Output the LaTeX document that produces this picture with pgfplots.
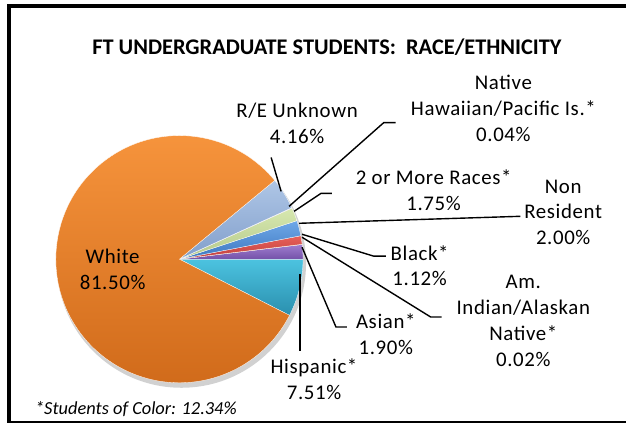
\documentclass[border=0pt]{standalone}
\usepackage{pgfplots}
\pgfplotsset{compat=1.18}
\usepackage{pgfplotstable}
\usepackage{fontspec}
\setmainfont{Carlito}[LetterSpace=3]
\newfontfamily\titlefont{Carlito}

\definecolor{cWhiteT}{HTML}{F8963E}\definecolor{cWhiteB}{HTML}{D06A1A}
\definecolor{cHispT}{HTML}{4CC3E0}\definecolor{cHispB}{HTML}{2A8FAE}
\definecolor{cAsianT}{HTML}{A07ED0}\definecolor{cAsianB}{HTML}{7352A8}
\definecolor{cAmIndT}{HTML}{A9C96A}\definecolor{cAmIndB}{HTML}{8AAA4C}
\definecolor{cBlackT}{HTML}{E8605A}\definecolor{cBlackB}{HTML}{C0403C}
\definecolor{cNonResT}{HTML}{6FA8E8}\definecolor{cNonResB}{HTML}{3E78C0}
\definecolor{cTwoT}{HTML}{D7E8B0}\definecolor{cTwoB}{HTML}{B5C98A}
\definecolor{cHawT}{HTML}{EBC2C1}\definecolor{cHawB}{HTML}{D9A3A2}
\definecolor{cUnkT}{HTML}{AEC6E6}\definecolor{cUnkB}{HTML}{829FCB}

% slices counter-clockwise, starting at the first-slice angle
\pgfplotstableread{
label value col
Hispanic 7.51 cHisp
Asian 1.90 cAsian
AmIndian 0.02 cAmInd
Black 1.12 cBlack
NonResident 2.00 cNonRes
TwoOrMore 1.75 cTwo
NativeHawaiian 0.04 cHaw
REUnknown 4.16 cUnk
White 81.50 cWhite
}\piedata

\begin{document}
\begin{tikzpicture}
\begin{axis}[
  width=628bp, height=425bp, scale only axis,
  xmin=0, xmax=628, ymin=0, ymax=425,
  hide axis, clip=false,
]
\path (axis cs:0,0) rectangle (axis cs:628,425);
% frame
\draw[line width=4bp, black] (axis cs:9.5,1) -- (axis cs:9.5,419) -- (axis cs:628,419);
\draw[line width=2bp, black] (axis cs:9.5,2) -- (axis cs:628,2);
% shadow
\fill[black, opacity=0.18] (axis cs:182,161) circle[radius=125bp];
% pie
\gdef\cum{-27.036}
\pgfplotsforeachungrouped \i in {0,...,8} {
  \pgfplotstablegetelem{\i}{value}\of\piedata \let\vv\pgfplotsretval
  \pgfplotstablegetelem{\i}{col}\of\piedata \let\colname\pgfplotsretval
  \pgfmathsetmacro\bb{\cum+3.6*\vv}
  \edef\tmp{\noexpand\shade[top color=\colname T, bottom color=\colname B, draw=white, line width=0.3bp]
    (axis cs:180,165) -- ++(\cum:124bp) arc[start angle=\cum, end angle=\bb, radius=124bp] -- cycle;}
  \tmp
  \global\let\cum\bb
}
% leader lines
\begin{scope}[line width=1.4bp, black]
\draw (axis cs:272,267) -- (axis cs:282,233);
\draw (axis cs:397,302) -- (axis cs:385,302) -- (axis cs:290,218);
\draw (axis cs:333,231) -- (axis cs:322,231) -- (axis cs:295,213);
\draw (axis cs:300,201) -- (axis cs:522,208);
\draw (axis cs:303,190) -- (axis cs:375,168) -- (axis cs:387,168);
\draw (axis cs:303,187) -- (axis cs:432,107) -- (axis cs:443,107);
\draw (axis cs:303,177) -- (axis cs:337,97) -- (axis cs:348,97);
\draw (axis cs:301,150) -- (axis cs:301,73);
\end{scope}
% labels
\begin{scope}[every node/.style={align=center, inner sep=0pt, font=\fontsize{21}{26}\selectfont}]
\node at (axis cs:328,378) {\titlefont\bfseries\fontsize{22.5}{26}\selectfont FT UNDERGRADUATE STUDENTS:\ \ RACE/ETHNICITY};
\node at (axis cs:298,301.5) {R/E Unknown\\4.16\%};
\node at (axis cs:505,316) {Native\\Hawaiian/Pacific Is.*\\0.04\%};
\node at (axis cs:435,234) {2 or More Races*\\1.75\%};
\node at (axis cs:565,212) {Non\\Resident\\2.00\%};
\node at (axis cs:421,158.5) {Black*\\1.12\%};
\node at (axis cs:525,103) {Am.\\Indian/Alaskan\\Native*\\0.02\%};
\node at (axis cs:387,89.5) {Asian*\\1.90\%};
\node at (axis cs:315,45) {Hispanic*\\7.51\%};
\node at (axis cs:113,155) {White\\81.50\%};
\node[anchor=west, font=\titlefont\itshape\fontsize{18.5}{22}\selectfont] at (axis cs:35,15) {*Students of Color: 12.34\%};
\end{scope}
\end{axis}
\end{tikzpicture}
\end{document}
